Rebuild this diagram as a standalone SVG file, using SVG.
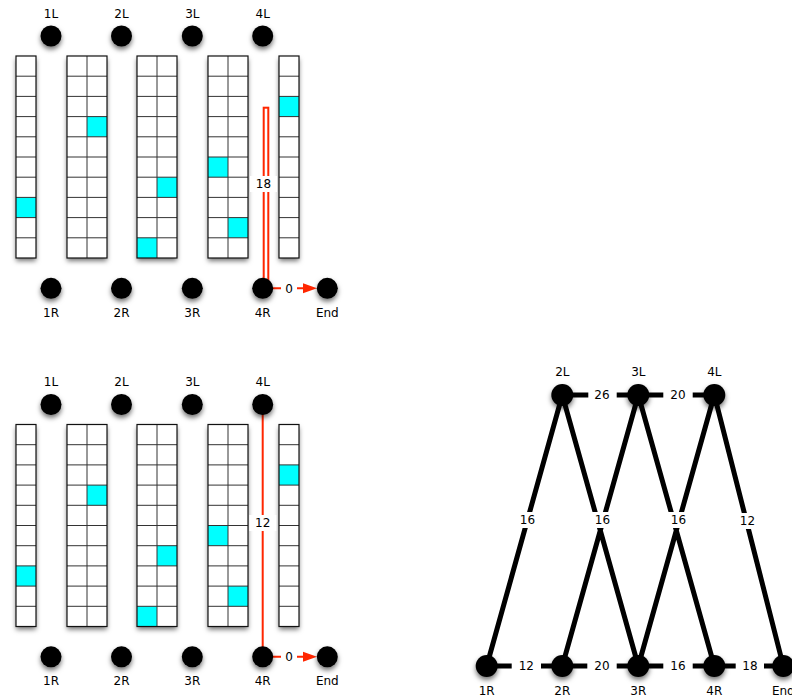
<svg xmlns="http://www.w3.org/2000/svg" width="792" height="698" viewBox="0 0 792 698">
<style>
.bg{fill:#fff;filter:url(#sh)}
.ln{fill:none;stroke:#333;stroke-width:1}
.bd{fill:none;stroke:#111;stroke-width:1.2}
.cy{fill:#00ffff}
.nd{fill:#000;filter:url(#sh)}
text{font-family:"DejaVu Sans",sans-serif;font-size:12px;text-anchor:middle;fill:#000}
.red{stroke:#ff2600;stroke-width:2;fill:none}
.blk{stroke:#000;stroke-width:5;fill:none}
.lb{fill:#fff}
</style>
<defs>
<filter id="sh" x="-50%" y="-50%" width="200%" height="200%">
<feDropShadow dx="0" dy="3" stdDeviation="2.5" flood-color="#000" flood-opacity="0.55"/>
</filter>
<path id="h1" d="M0 20.2h20M0 40.4h20M0 60.6h20M0 80.8h20M0 101h20M0 121.2h20M0 141.4h20M0 161.6h20M0 181.8h20"/>
<path id="h2" d="M0 20.2h40M0 40.4h40M0 60.6h40M0 80.8h40M0 101h40M0 121.2h40M0 141.4h40M0 161.6h40M0 181.8h40M20 0V202"/>
<g id="panel">
<g transform="translate(16,0)"><rect class="bg" width="20" height="202"/><rect class="cy" x="0" y="141.4" width="20" height="20.2"/><use href="#h1" class="ln"/><rect class="bd" width="20" height="202"/></g>
<g transform="translate(67,0)"><rect class="bg" width="40" height="202"/><rect class="cy" x="20" y="60.6" width="20" height="20.2"/><use href="#h2" class="ln"/><rect class="bd" width="40" height="202"/></g>
<g transform="translate(137,0)"><rect class="bg" width="40" height="202"/><rect class="cy" x="20" y="121.2" width="20" height="20.2"/><rect class="cy" x="0" y="181.8" width="20" height="20.2"/><use href="#h2" class="ln"/><rect class="bd" width="40" height="202"/></g>
<g transform="translate(208,0)"><rect class="bg" width="40" height="202"/><rect class="cy" x="0" y="101" width="20" height="20.2"/><rect class="cy" x="20" y="161.6" width="20" height="20.2"/><use href="#h2" class="ln"/><rect class="bd" width="40" height="202"/></g>
<g transform="translate(279,0)"><rect class="bg" width="20" height="202"/><rect class="cy" x="0" y="40.4" width="20" height="20.2"/><use href="#h1" class="ln"/><rect class="bd" width="20" height="202"/></g>
</g>
</defs>

<g id="grid-top"><use href="#panel" transform="translate(0,56)"/></g>
<g id="grid-bottom"><use href="#panel" transform="translate(0,424.5)"/></g>

<g id="connectors">
<rect class="red" x="263.7" y="107.7" width="4.6" height="180"/>
<rect class="lb" x="250" y="176" width="27" height="16"/>
<text x="263.5" y="188.3">18</text>
<line class="red" x1="262.7" y1="288.3" x2="304" y2="288.3"/>
<polygon points="303,283.3 317,288.3 303,293.3" fill="#ff2600"/>
<rect class="lb" x="281" y="281" width="16" height="15"/>
<text x="289" y="292.7">0</text>

<line class="red" x1="262.7" y1="404.5" x2="262.7" y2="656.8"/>
<rect class="lb" x="249.3" y="515" width="27" height="16"/>
<text x="262.7" y="527.3">12</text>
<line class="red" x1="262.7" y1="656.8" x2="304" y2="656.8"/>
<polygon points="303,651.8 317,656.8 303,661.8" fill="#ff2600"/>
<rect class="lb" x="281" y="649.5" width="16" height="15"/>
<text x="289" y="661.2">0</text>

<path class="blk" d="M562.3 395H714.3M486.7 666H783.3M486.7 666L562.3 395L638.3 666M562.3 666L638.3 395L714.3 666M638.3 666L714.3 395L783.3 666"/>
<rect class="lb" x="588.3" y="388" width="28.4" height="14"/><text x="602" y="399.4">26</text>
<rect class="lb" x="663.3" y="388" width="29.4" height="14"/><text x="678" y="399.4">20</text>
<rect class="lb" x="511.7" y="659" width="29.3" height="14"/><text x="526.3" y="670.4">12</text>
<rect class="lb" x="587.3" y="659" width="29.4" height="14"/><text x="602" y="670.4">20</text>
<rect class="lb" x="663.3" y="659" width="29.4" height="14"/><text x="678" y="670.4">16</text>
<rect class="lb" x="735.7" y="659" width="28.3" height="14"/><text x="750" y="670.4">18</text>
<rect class="lb" x="517.5" y="512" width="20" height="16"/><text x="527.5" y="524.4">16</text>
<rect class="lb" x="592" y="512" width="21" height="16"/><text x="602.5" y="524.4">16</text>
<rect class="lb" x="668" y="512" width="21" height="16"/><text x="678.5" y="524.4">16</text>
<rect class="lb" x="737.5" y="513" width="20" height="16"/><text x="747.5" y="525.4">12</text>
</g>

<g id="nodes">
<g id="t-1L"><circle class="nd" cx="51" cy="36" r="10.5"/><text x="51" y="17.5">1L</text></g>
<g id="t-2L"><circle class="nd" cx="121.5" cy="36" r="10.5"/><text x="121.5" y="17.5">2L</text></g>
<g id="t-3L"><circle class="nd" cx="192.3" cy="36" r="10.5"/><text x="192.3" y="17.5">3L</text></g>
<g id="t-4L"><circle class="nd" cx="262.7" cy="36" r="10.5"/><text x="262.7" y="17.5">4L</text></g>
<g id="t-1R"><circle class="nd" cx="51" cy="288.3" r="10.5"/><text x="51" y="316.5">1R</text></g>
<g id="t-2R"><circle class="nd" cx="121.5" cy="288.3" r="10.5"/><text x="121.5" y="316.5">2R</text></g>
<g id="t-3R"><circle class="nd" cx="192.3" cy="288.3" r="10.5"/><text x="192.3" y="316.5">3R</text></g>
<g id="t-4R"><circle class="nd" cx="262.7" cy="288.3" r="10.5"/><text x="262.7" y="316.5">4R</text></g>
<g id="t-End"><circle class="nd" cx="327.3" cy="288.3" r="10.5"/><text x="327.3" y="316.5">End</text></g>

<g id="b-1L"><circle class="nd" cx="51" cy="404.5" r="10.5"/><text x="51" y="386">1L</text></g>
<g id="b-2L"><circle class="nd" cx="121.5" cy="404.5" r="10.5"/><text x="121.5" y="386">2L</text></g>
<g id="b-3L"><circle class="nd" cx="192.3" cy="404.5" r="10.5"/><text x="192.3" y="386">3L</text></g>
<g id="b-4L"><circle class="nd" cx="262.7" cy="404.5" r="10.5"/><text x="262.7" y="386">4L</text></g>
<g id="b-1R"><circle class="nd" cx="51" cy="656.8" r="10.5"/><text x="51" y="684.8">1R</text></g>
<g id="b-2R"><circle class="nd" cx="121.5" cy="656.8" r="10.5"/><text x="121.5" y="684.8">2R</text></g>
<g id="b-3R"><circle class="nd" cx="192.3" cy="656.8" r="10.5"/><text x="192.3" y="684.8">3R</text></g>
<g id="b-4R"><circle class="nd" cx="262.7" cy="656.8" r="10.5"/><text x="262.7" y="684.8">4R</text></g>
<g id="b-End"><circle class="nd" cx="327.3" cy="656.8" r="10.5"/><text x="327.3" y="684.8">End</text></g>

<g id="g-2L"><circle class="nd" cx="562.3" cy="395" r="11"/><text x="562.3" y="375.5">2L</text></g>
<g id="g-3L"><circle class="nd" cx="638.3" cy="395" r="11"/><text x="638.3" y="375.5">3L</text></g>
<g id="g-4L"><circle class="nd" cx="714.3" cy="395" r="11"/><text x="714.3" y="375.5">4L</text></g>
<g id="g-1R"><circle class="nd" cx="486.7" cy="666" r="11"/><text x="486.7" y="694.5">1R</text></g>
<g id="g-2R"><circle class="nd" cx="562.3" cy="666" r="11"/><text x="562.3" y="694.5">2R</text></g>
<g id="g-3R"><circle class="nd" cx="638.3" cy="666" r="11"/><text x="638.3" y="694.5">3R</text></g>
<g id="g-4R"><circle class="nd" cx="714.3" cy="666" r="11"/><text x="714.3" y="694.5">4R</text></g>
<g id="g-End"><circle class="nd" cx="783.3" cy="666" r="11"/><text x="783.3" y="694.5">End</text></g>
</g>
</svg>
